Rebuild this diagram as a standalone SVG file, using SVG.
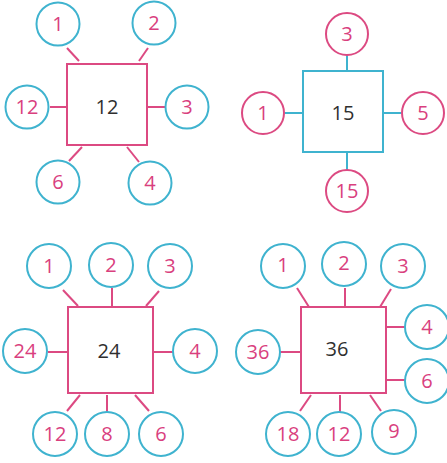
<svg xmlns="http://www.w3.org/2000/svg" width="447" height="463" viewBox="0 0 447 463">
<style>
.bg{fill:#ffffff}
.cc{fill:#ffffff;stroke:#3fb3cf;stroke-width:2}
.cp{fill:#ffffff;stroke:#dc4a82;stroke-width:2}
.sp{fill:#ffffff;stroke:#dc4a82;stroke-width:2}
.sc{fill:#ffffff;stroke:#3fb3cf;stroke-width:2}
.lp{stroke:#dc4a82;stroke-width:2}
.lc{stroke:#3fb3cf;stroke-width:2}
.n{font-family:"Open Sans","Liberation Sans",sans-serif;font-size:20px;fill:#d9407e;text-anchor:middle;dominant-baseline:central}
.m{font-family:"Open Sans","Liberation Sans",sans-serif;font-size:20px;fill:#2f2f2f;text-anchor:middle;dominant-baseline:central}
</style>
<rect class="bg" width="447" height="463"/>
<g id="connectors">
<line class="lp" x1="67" y1="48" x2="79" y2="61"/>
<line class="lp" x1="148" y1="48" x2="139" y2="61"/>
<line class="lp" x1="50" y1="107" x2="67" y2="107"/>
<line class="lp" x1="147" y1="107" x2="165" y2="107"/>
<line class="lp" x1="82" y1="147" x2="69" y2="161"/>
<line class="lp" x1="127" y1="147" x2="139" y2="162"/>
<line class="lc" x1="347" y1="55" x2="347" y2="71"/>
<line class="lc" x1="285" y1="113" x2="303" y2="113"/>
<line class="lc" x1="383" y1="113" x2="401" y2="113"/>
<line class="lc" x1="347" y1="152" x2="347" y2="170"/>
<line class="lp" x1="63" y1="290" x2="78" y2="306"/>
<line class="lp" x1="112" y1="288" x2="112" y2="307"/>
<line class="lp" x1="159" y1="291" x2="146" y2="306"/>
<line class="lp" x1="48" y1="352" x2="68" y2="352"/>
<line class="lp" x1="153" y1="352" x2="173" y2="352"/>
<line class="lp" x1="80" y1="395" x2="67" y2="411"/>
<line class="lp" x1="107" y1="395" x2="107" y2="412"/>
<line class="lp" x1="135" y1="395" x2="149" y2="411"/>
<line class="lp" x1="297" y1="288" x2="309" y2="307"/>
<line class="lp" x1="345" y1="288" x2="345" y2="307"/>
<line class="lp" x1="391" y1="289" x2="380" y2="307"/>
<line class="lp" x1="386" y1="327" x2="405" y2="327"/>
<line class="lp" x1="386" y1="380" x2="405" y2="380"/>
<line class="lp" x1="280" y1="352" x2="301" y2="352"/>
<line class="lp" x1="311" y1="395" x2="300" y2="411"/>
<line class="lp" x1="340" y1="395" x2="340" y2="412"/>
<line class="lp" x1="370" y1="395" x2="381" y2="411"/>
</g>
<g id="p1">
<g id="p1-center"><rect class="sp" x="67" y="64" width="80" height="81"/><text class="m" x="107" y="106">12</text></g>
<g id="p1-1"><circle class="cc" cx="58" cy="24" r="21.5"/><text class="n" x="58" y="23">1</text></g>
<g id="p1-2"><circle class="cc" cx="154" cy="23" r="21.5"/><text class="n" x="154" y="22">2</text></g>
<g id="p1-12"><circle class="cc" cx="27" cy="107" r="21.5"/><text class="n" x="27" y="106">12</text></g>
<g id="p1-3"><circle class="cc" cx="187" cy="107" r="21.5"/><text class="n" x="187" y="106">3</text></g>
<g id="p1-6"><circle class="cc" cx="58" cy="182" r="21.5"/><text class="n" x="58" y="181">6</text></g>
<g id="p1-4"><circle class="cc" cx="150" cy="183" r="21.5"/><text class="n" x="150" y="182">4</text></g>
</g>
<g id="p2">
<g id="p2-center"><rect class="sc" x="303" y="71" width="80" height="81"/><text class="m" x="343" y="112">15</text></g>
<g id="p2-3"><circle class="cp" cx="347" cy="34" r="21"/><text class="n" x="347" y="33">3</text></g>
<g id="p2-1"><circle class="cp" cx="263" cy="113" r="21"/><text class="n" x="263" y="112">1</text></g>
<g id="p2-5"><circle class="cp" cx="423" cy="113" r="21"/><text class="n" x="423" y="112">5</text></g>
<g id="p2-15"><circle class="cp" cx="347" cy="191" r="21"/><text class="n" x="347" y="190">15</text></g>
</g>
<g id="p3">
<g id="p3-center"><rect class="sp" x="68" y="307" width="85" height="86"/><text class="m" x="109" y="350">24</text></g>
<g id="p3-1"><circle class="cc" cx="49" cy="266" r="22"/><text class="n" x="49" y="265">1</text></g>
<g id="p3-2"><circle class="cc" cx="111" cy="265" r="22"/><text class="n" x="111" y="264">2</text></g>
<g id="p3-3"><circle class="cc" cx="170" cy="266" r="22"/><text class="n" x="170" y="265">3</text></g>
<g id="p3-24"><circle class="cc" cx="25" cy="351" r="22"/><text class="n" x="25" y="350">24</text></g>
<g id="p3-4"><circle class="cc" cx="195" cy="351" r="22"/><text class="n" x="195" y="350">4</text></g>
<g id="p3-12"><circle class="cc" cx="55" cy="434" r="22"/><text class="n" x="55" y="433">12</text></g>
<g id="p3-8"><circle class="cc" cx="107" cy="434" r="22"/><text class="n" x="107" y="433">8</text></g>
<g id="p3-6"><circle class="cc" cx="161" cy="434" r="22"/><text class="n" x="161" y="433">6</text></g>
</g>
<g id="p4">
<g id="p4-center"><rect class="sp" x="301" y="307" width="85" height="86"/><text class="m" x="337" y="348">36</text></g>
<g id="p4-1"><circle class="cc" cx="283" cy="266" r="22"/><text class="n" x="283" y="264">1</text></g>
<g id="p4-2"><circle class="cc" cx="344" cy="264" r="22"/><text class="n" x="344" y="262">2</text></g>
<g id="p4-3"><circle class="cc" cx="403" cy="266" r="22"/><text class="n" x="403" y="265">3</text></g>
<g id="p4-4"><circle class="cc" cx="427" cy="327" r="22"/><text class="n" x="427" y="326">4</text></g>
<g id="p4-6"><circle class="cc" cx="427" cy="381" r="22"/><text class="n" x="427" y="380">6</text></g>
<g id="p4-36"><circle class="cc" cx="258" cy="352" r="22"/><text class="n" x="258" y="351">36</text></g>
<g id="p4-18"><circle class="cc" cx="288" cy="434" r="22"/><text class="n" x="288" y="433">18</text></g>
<g id="p4-12"><circle class="cc" cx="339" cy="434" r="22"/><text class="n" x="339" y="433">12</text></g>
<g id="p4-9"><circle class="cc" cx="394" cy="432" r="22"/><text class="n" x="394" y="430">9</text></g>
</g>
</svg>
